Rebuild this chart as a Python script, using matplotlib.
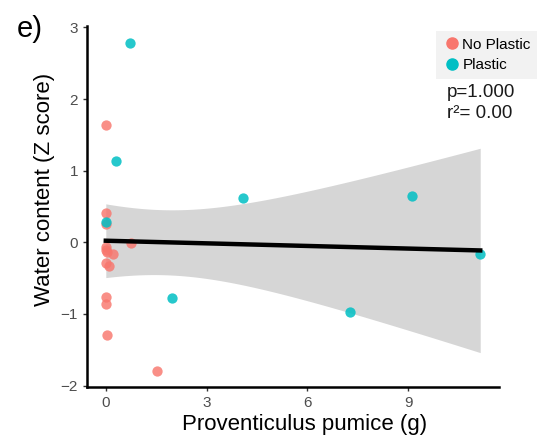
import numpy as np
import matplotlib
matplotlib.use('Agg')
import matplotlib.pyplot as plt
from matplotlib.lines import Line2D

plt.rcParams['font.family'] = ['Liberation Sans', 'DejaVu Sans']

# No Plastic points
np_x = [0, 0, 0, 0, 0.02, 0.03, 0.21, 0.76, 0, 0.1, 0.02, 0.02, 0.04, 1.53]
np_y = [1.64, 0.41, 0.25, -0.07, -0.11, -0.14, -0.17, -0.01, -0.29, -0.33, -0.76, -0.86, -1.29, -1.79]
# Plastic points
pl_x = [0.73, 0.31, 4.09, 0, 1.98, 7.28, 9.12, 11.15]
pl_y = [2.78, 1.14, 0.625, 0.29, -0.78, -0.97, 0.64, -0.17]

xticks = [0, 3, 6, 9]
yticks = [-2, -1, 0, 1, 2, 3]

fig = plt.figure(figsize=(5.42, 4.37), dpi=100)
ax = fig.add_axes([0.1605, 0.1144, 0.7602, 0.8261])

# linear fit with 95% CI
x_all = np.array(np_x + pl_x)
y_all = np.array(np_y + pl_y)
n = len(x_all)
b, a = np.polyfit(x_all, y_all, 1)
xs = np.linspace(x_all.min(), x_all.max(), 100)
ys = a + b * xs
resid = y_all - (a + b * x_all)
s = np.sqrt(np.sum(resid ** 2) / (n - 2))
sxx = np.sum((x_all - x_all.mean()) ** 2)
se = s * np.sqrt(1 / n + (xs - x_all.mean()) ** 2 / sxx)
t = 2.086  # t(0.975, df=20)
ax.fill_between(xs, ys - t * se, ys + t * se, color='#999999', alpha=0.4, lw=0, zorder=1)

ax.scatter(np_x, np_y, s=55, color='#F8766D', alpha=0.82, lw=0, zorder=2)
ax.scatter(pl_x, pl_y, s=55, color='#00BFC4', alpha=0.85, lw=0, zorder=2)
ax.plot(xs, ys, color='black', lw=3.2, zorder=3)

ax.set_xlim(-0.56, 11.71)
ax.set_ylim(-2.02, 3.02)
ax.set_xticks(xticks)
ax.set_yticks(yticks)
ax.set_yticklabels(['\u22122', '\u22121', '0', '1', '2', '3'])
for sp in ['top', 'right']:
    ax.spines[sp].set_visible(False)
for sp in ['left', 'bottom']:
    ax.spines[sp].set_linewidth(1.8)
ax.tick_params(labelsize=11, colors='#4D4D4D', length=3, width=1)
ax.tick_params(axis='both', color='#333333')

ax.set_xlabel('Proventiculus pumice (g)', fontsize=16)
ax.set_ylabel('Water content (Z score)', fontsize=16)
ax.xaxis.set_label_coords(0.529, -0.075)
ax.yaxis.set_label_coords(-0.078, 0.546)

# legend
handles = [Line2D([], [], marker='o', ls='', color='#F8766D', markersize=8),
           Line2D([], [], marker='o', ls='', color='#00BFC4', markersize=8)]
leg = ax.legend(handles, ['No Plastic', 'Plastic'], loc='upper right',
                bbox_to_anchor=(1.092, 0.985), frameon=True, fontsize=11,
                handletextpad=0.1, borderpad=0.4, labelspacing=0.45,
                handlelength=1.2, fancybox=False, borderaxespad=0)
leg.get_frame().set_facecolor('#EFEFEF')
leg.get_frame().set_edgecolor('none')

fig.text(0.825, 0.777, 'p=1.000', fontsize=13.5, color='#1A1A1A')
fig.text(0.825, 0.729, 'r\u00b2= 0.00', fontsize=13.5, color='#1A1A1A')
fig.text(0.03, 0.915, 'e)', fontsize=21)

fig.savefig('out.png', dpi=100)
